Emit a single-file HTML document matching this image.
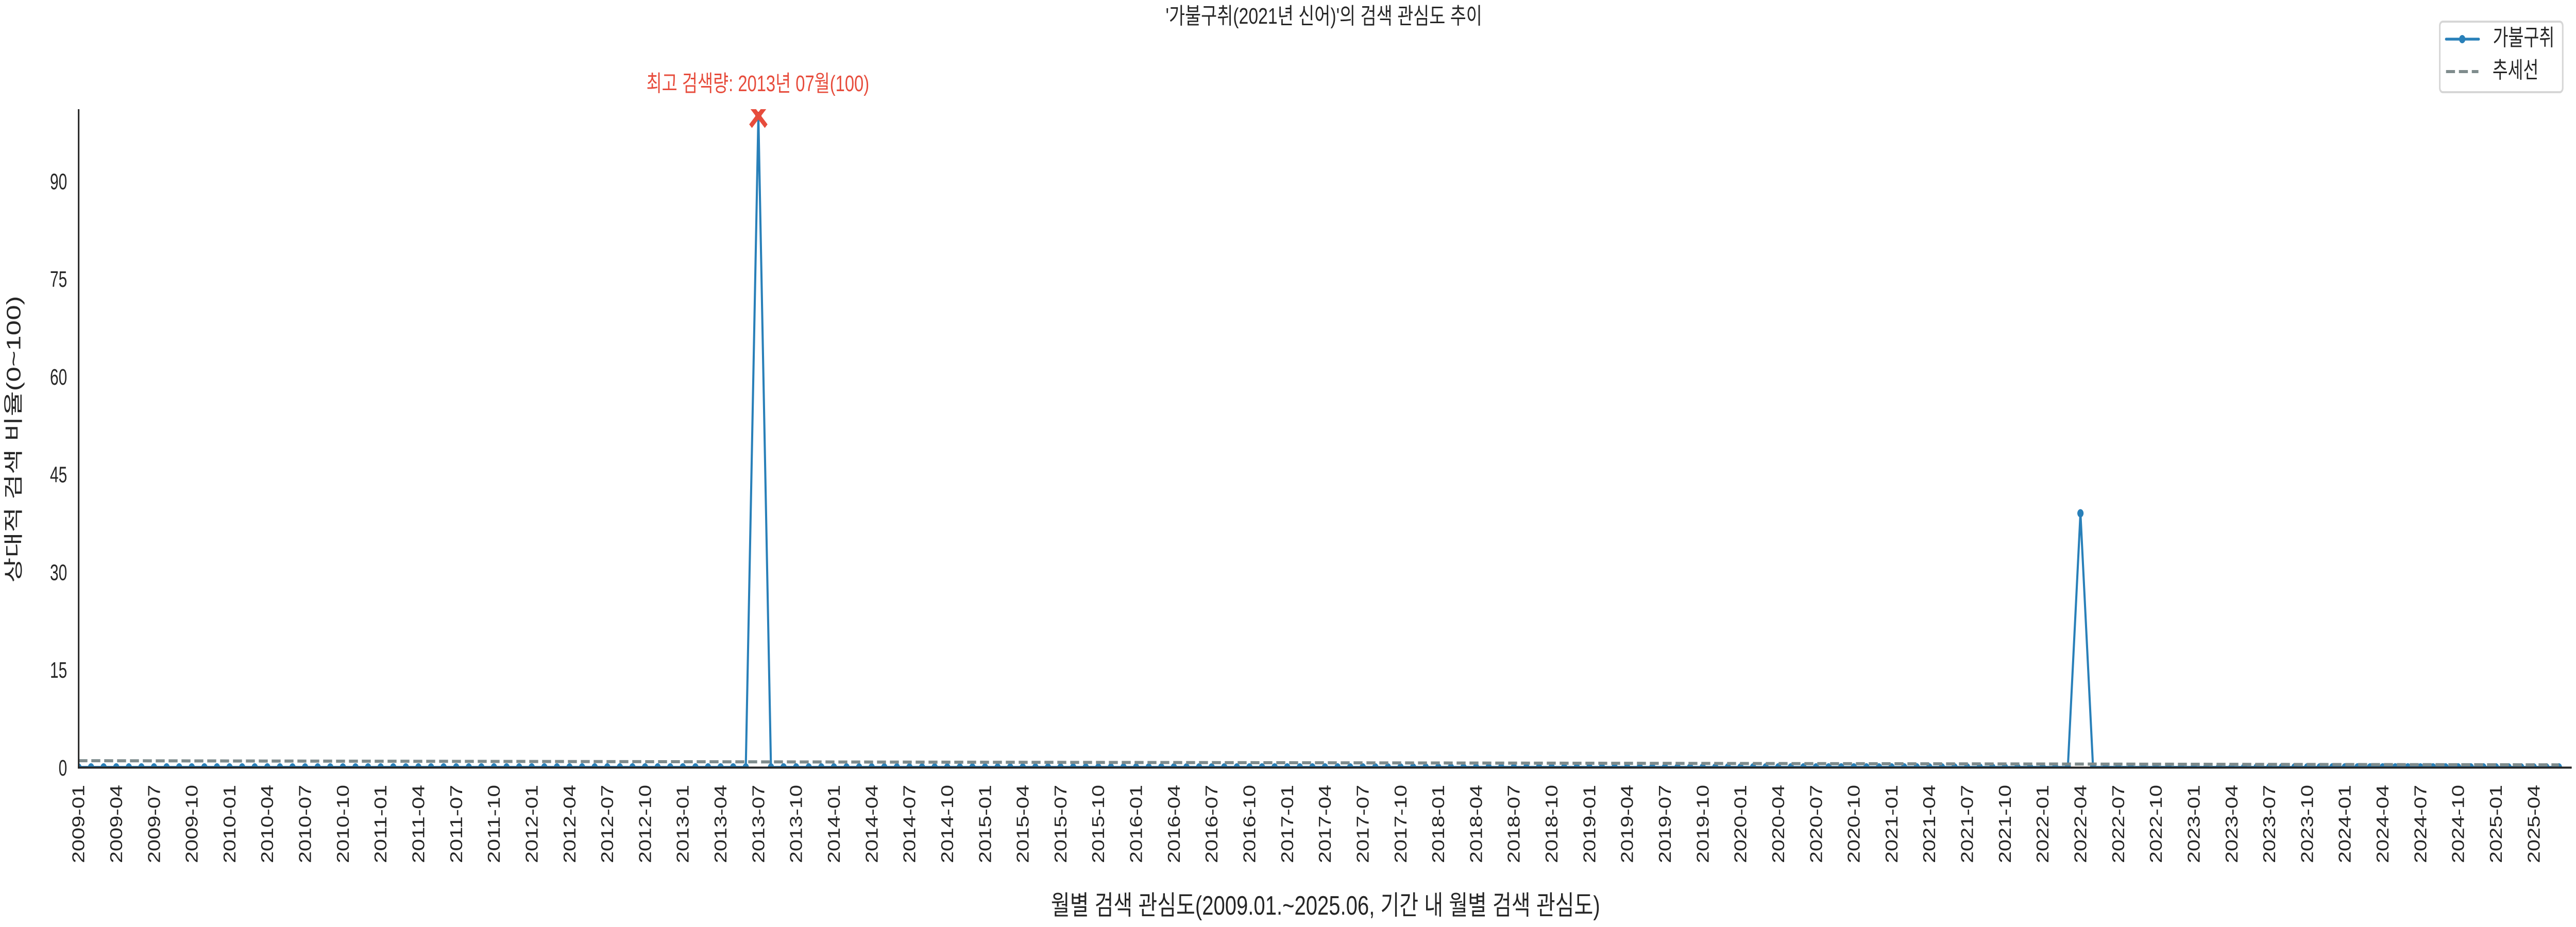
<!DOCTYPE html>
<html lang="ko">
<head>
<meta charset="utf-8">
<title>'가불구취(2021년 신어)'의 검색 관심도 추이</title>
<style>
html,body{margin:0;padding:0;background:#fff;width:100%;height:100%;overflow:hidden}
svg{display:block;width:100vw;height:100vh}
text{font-family:"Liberation Sans","Noto Sans CJK KR",sans-serif;fill:#262626}
</style>
</head>
<body>
<svg id="chart" xmlns="http://www.w3.org/2000/svg" viewBox="0 0 6600 1800" preserveAspectRatio="none">
  <defs>
    <clipPath id="plot-clip"><rect x="201" y="212" width="6388" height="1278"></rect></clipPath>
  </defs>
  <rect x="0" y="0" width="6600" height="1800" fill="#ffffff"></rect>
  <text x="3392" y="46" font-size="44" text-anchor="middle" textLength="811" lengthAdjust="spacingAndGlyphs">'가불구취(2021년 신어)'의 검색 관심도 추이</text>
  <g id="plot" clip-path="url(#plot-clip)"></g>
  <g id="axes"></g>
  <text transform="translate(52 853) rotate(-90)" font-size="50" text-anchor="middle" textLength="557" lengthAdjust="spacingAndGlyphs">상대적 검색 비율(0~100)</text>
  <text x="3396" y="1776" font-size="52" text-anchor="middle" textLength="1407" lengthAdjust="spacingAndGlyphs">월별 검색 관심도(2009.01.~2025.06, 기간 내 월별 검색 관심도)</text>
  <text id="peak-label" y="177" font-size="44" text-anchor="middle" textLength="571" lengthAdjust="spacingAndGlyphs" style="fill:#e74c3c">최고 검색량: 2013년 07월(100)</text>
  <g>
    <rect x="6251" y="42" width="315" height="137" rx="8" ry="8" fill="#ffffff" stroke="#d6d6d6" stroke-width="4"></rect>
    <line x1="6267" y1="76" x2="6351" y2="76" stroke="#2980b9" stroke-width="5.4" stroke-linecap="round"></line>
    <circle cx="6308.5" cy="76" r="8" fill="#2980b9"></circle>
    <text x="6387" y="88" font-size="44" textLength="158" lengthAdjust="spacingAndGlyphs">가불구취</text>
    <line x1="6267" y1="139" x2="6350" y2="139" stroke="#7f8c8d" stroke-width="6" stroke-dasharray="23 10"></line>
    <text x="6386" y="151" font-size="44" textLength="118" lengthAdjust="spacingAndGlyphs">추세선</text>
  </g>
</svg>
<script>
const values2009 = [0,0,0,0,0,0,0,0,0,0,0,0];
const values2010 = [0,0,0,0,0,0,0,0,0,0,0,0];
const values2011 = [0,0,0,0,0,0,0,0,0,0,0,0];
const values2012 = [0,0,0,0,0,0,0,0,0,0,0,0];
const values2013 = [0,0,0,0,0,0,100,0,0,0,0,0];
const values2014 = [0,0,0,0,0,0,0,0,0,0,0,0];
const values2015 = [0,0,0,0,0,0,0,0,0,0,0,0];
const values2016 = [0,0,0,0,0,0,0,0,0,0,0,0];
const values2017 = [0,0,0,0,0,0,0,0,0,0,0,0];
const values2018 = [0,0,0,0,0,0,0,0,0,0,0,0];
const values2019 = [0,0,0,0,0,0,0,0,0,0,0,0];
const values2020 = [0,0,0,0,0,0,0,0,0,0,0,0];
const values2021 = [0,0,0,0,0,0,0,0,0,0,0,0];
const values2022 = [0,0,0,39,0,0,0,0,0,0,0,0];
const values2023 = [0,0,0,0,0,0,0,0,0,0,0,0];
const values2024 = [0,0,0,0,0,0,0,0,0,0,0,0];
const values2025 = [0,0,0,0,0,0];
const trendValues = [1.02, 0.38];
const yTickLabels = ["0","15","30","45","60","75","90"];
const xTickLabels = [
"2009-01","2009-04","2009-07","2009-10","2010-01","2010-04","2010-07","2010-10",
"2011-01","2011-04","2011-07","2011-10","2012-01","2012-04","2012-07","2012-10",
"2013-01","2013-04","2013-07","2013-10","2014-01","2014-04","2014-07","2014-10",
"2015-01","2015-04","2015-07","2015-10","2016-01","2016-04","2016-07","2016-10",
"2017-01","2017-04","2017-07","2017-10","2018-01","2018-04","2018-07","2018-10",
"2019-01","2019-04","2019-07","2019-10","2020-01","2020-04","2020-07","2020-10",
"2021-01","2021-04","2021-07","2021-10","2022-01","2022-04","2022-07","2022-10",
"2023-01","2023-04","2023-07","2023-10","2024-01","2024-04","2024-07","2024-10",
"2025-01","2025-04"];

const seriesValues = [].concat(values2009,values2010,values2011,values2012,values2013,values2014,values2015,values2016,values2017,values2018,values2019,values2020,values2021,values2022,values2023,values2024,values2025);

const NS = "http://www.w3.org/2000/svg";
function xScale(i){ return 201 + i * 32.26; }
function yScale(v){ return 1490 - v * 12.65; }
function monthIndex(label){
  const p = label.split("-");
  return (Number(p[0]) - 2009) * 12 + Number(p[1]) - 1;
}
function make(tag, attrs){
  const el = document.createElementNS(NS, tag);
  for (const k in attrs) el.setAttribute(k, attrs[k]);
  return el;
}

const plot = document.getElementById("plot");
const axes = document.getElementById("axes");
const lastIndex = seriesValues.length - 1;

const seriesLine = make("polyline", {
  points: seriesValues.map((v, i) => xScale(i) + "," + yScale(v)).join(" "),
  fill: "none", stroke: "#2980b9", "stroke-width": "5.4", "stroke-linejoin": "miter"
});


plot.appendChild(seriesLine);

seriesValues.forEach((v, i) => {
  const dot = make("circle", { cx: xScale(i), cy: yScale(v), r: 8, fill: "#2980b9" });
  
  
  plot.appendChild(dot);
});

const trendLine = make("line", {
  x1: xScale(0), y1: yScale(trendValues[0]),
  x2: xScale(lastIndex), y2: yScale(trendValues[1]),
  stroke: "#7f8c8d", "stroke-width": "6", "stroke-dasharray": "23 10"
});


plot.appendChild(trendLine);

let peakIndex = 0;
seriesValues.forEach((v, i) => { if (v > seriesValues[peakIndex]) peakIndex = i; });
const px = xScale(peakIndex), py = yScale(seriesValues[peakIndex]);
const peakMark = make("path", {
  d: "M" + (px - 20) + " " + (py - 20) + "L" + (px + 20) + " " + (py + 20) +
     "M" + (px - 20) + " " + (py + 20) + "L" + (px + 20) + " " + (py - 20),
  fill: "none", stroke: "#e74c3c", "stroke-width": "10"
});


plot.appendChild(peakMark);
document.getElementById("peak-label").setAttribute("x", px - 1.5);

yTickLabels.forEach(label => {
  const t = make("text", {
    x: 172, y: yScale(Number(label)) + 16, "font-size": 44, "text-anchor": "end",
    textLength: label.length * 22, lengthAdjust: "spacingAndGlyphs"
  });
  t.textContent = label;
  
  
  axes.appendChild(t);
});

xTickLabels.forEach(label => {
  const x = xScale(monthIndex(label));
  const t = make("text", {
    transform: "translate(" + (x + 15) + " 1676) rotate(-90)",
    "font-size": 44, "text-anchor": "start",
    textLength: 152, lengthAdjust: "spacingAndGlyphs"
  });
  t.textContent = label;
  
  
  axes.appendChild(t);
});

const ySpine = make("line", { x1: 201.5, y1: 212, x2: 201.5, y2: 1492, stroke: "#262626", "stroke-width": "4" });


axes.appendChild(ySpine);

const xSpine = make("line", { x1: 199.5, y1: 1490.5, x2: 6589, y2: 1490.5, stroke: "#262626", "stroke-width": "4" });


axes.appendChild(xSpine);
</script>
</body>
</html>
